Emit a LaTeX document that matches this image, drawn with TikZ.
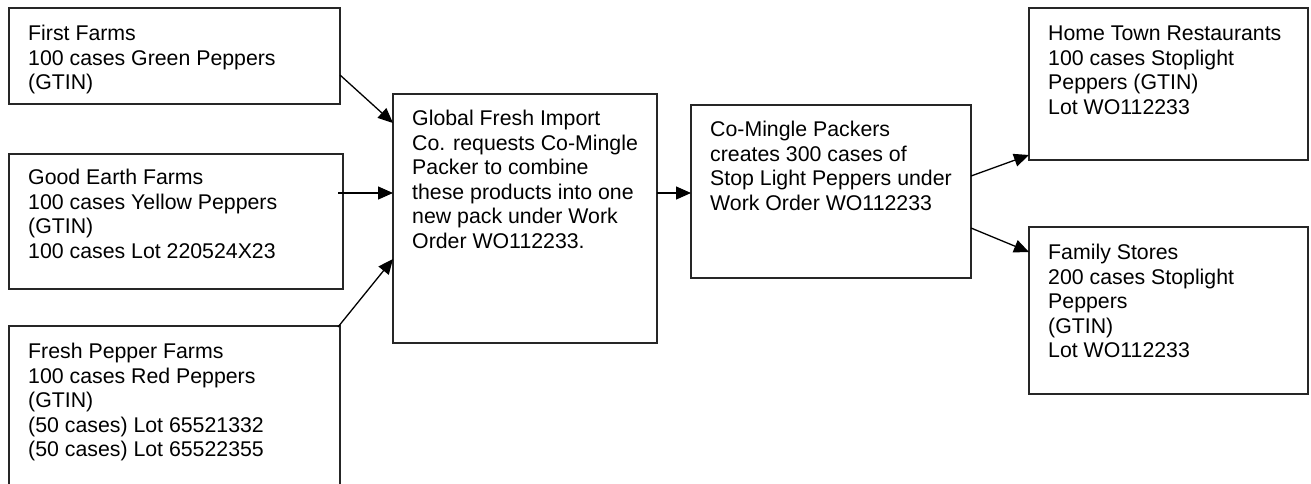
\documentclass[tikz,border=0pt]{standalone}
\usepackage{fontspec}
\setmainfont{Liberation Sans}
\usetikzlibrary{arrows.meta,calc}
\begin{document}
\begin{tikzpicture}[x=1pt,y=-1pt,
  box/.style={draw=black!85,line width=1.3pt,rectangle,inner sep=0pt,outer sep=0pt,anchor=north west},
  txt/.style={anchor=north west,inner sep=0pt,align=left,font=\fontsize{21.3}{24.6}\selectfont},
  arr/.style={line width=1.3pt,-{Triangle[length=15pt,width=13pt]}}]
\useasboundingbox (0,0) rectangle (1311,483);
\clip (0,0) rectangle (1311,483);
\fill[white] (0,0) rectangle (1311,483);
% boxes
\node[box,minimum width=331pt,minimum height=96pt] (b1) at (9,8) {};
\node[box,minimum width=334pt,minimum height=135pt] (b2) at (9,154) {};
\node[box,minimum width=331pt,minimum height=170pt] (b3) at (9,326) {};
\node[box,minimum width=264pt,minimum height=249pt] (b4) at (393,94) {};
\node[box,minimum width=280pt,minimum height=173pt] (b5) at (691,105) {};
\node[box,minimum width=279pt,minimum height=152pt] (b6) at (1029,8) {};
\node[box,minimum width=279pt,minimum height=167pt] (b7) at (1029,227) {};
% texts
\node[txt] (t1) at ($(b1.north west)+(19,15)$) {\strut First Farms\\100 cases Green Peppers\\(GTIN)};
\node[txt] (t2) at ($(b2.north west)+(19,13)$) {\strut Good Earth Farms\\100 cases Yellow Peppers\\(GTIN)\\100 cases Lot 220524X23};
\node[txt] (t3) at ($(b3.north west)+(19,15)$) {\strut Fresh Pepper Farms\\100 cases Red Peppers\\(GTIN)\\(50 cases) Lot 65521332\\(50 cases) Lot 65522355};
\node[txt] (t4) at ($(b4.north west)+(19,14)$) {\strut Global Fresh Import\\Co. requests Co-Mingle\\Packer to combine\\these products into one\\new pack under Work\\Order WO112233.};
\node[txt] (t5) at ($(b5.north west)+(19,14)$) {\strut Co-Mingle Packers\\creates 300 cases of\\Stop Light Peppers under\\Work Order WO112233};
\node[txt] (t6) at ($(b6.north west)+(19,15)$) {\strut Home Town Restaurants\\100 cases Stoplight\\Peppers (GTIN)\\Lot WO112233};
\node[txt] (t7) at ($(b7.north west)+(19,15)$) {\strut Family Stores\\200 cases Stoplight\\Peppers\\(GTIN)\\Lot WO112233};
% connectors
\draw[arr] ($(b1.north east)+(0,67)$) -- ($(b4.north west)+(0,29)$);
\draw[arr] ($(b2.north east)+(-5,39)$) -- ($(b4.north west)+(0,99)$);
\draw[arr] ($(b3.north east)+(-2,1)$) -- ($(b4.north west)+(0,165)$);
\draw[arr] ($(b4.north east)+(0,99)$) -- ($(b5.north west)+(0,88)$);
\draw[arr] ($(b5.north east)+(0,71)$) -- ($(b6.south west)+(0,-5)$);
\draw[arr] ($(b5.north east)+(0,123)$) -- ($(b7.north west)+(0,25)$);
\end{tikzpicture}
\end{document}
